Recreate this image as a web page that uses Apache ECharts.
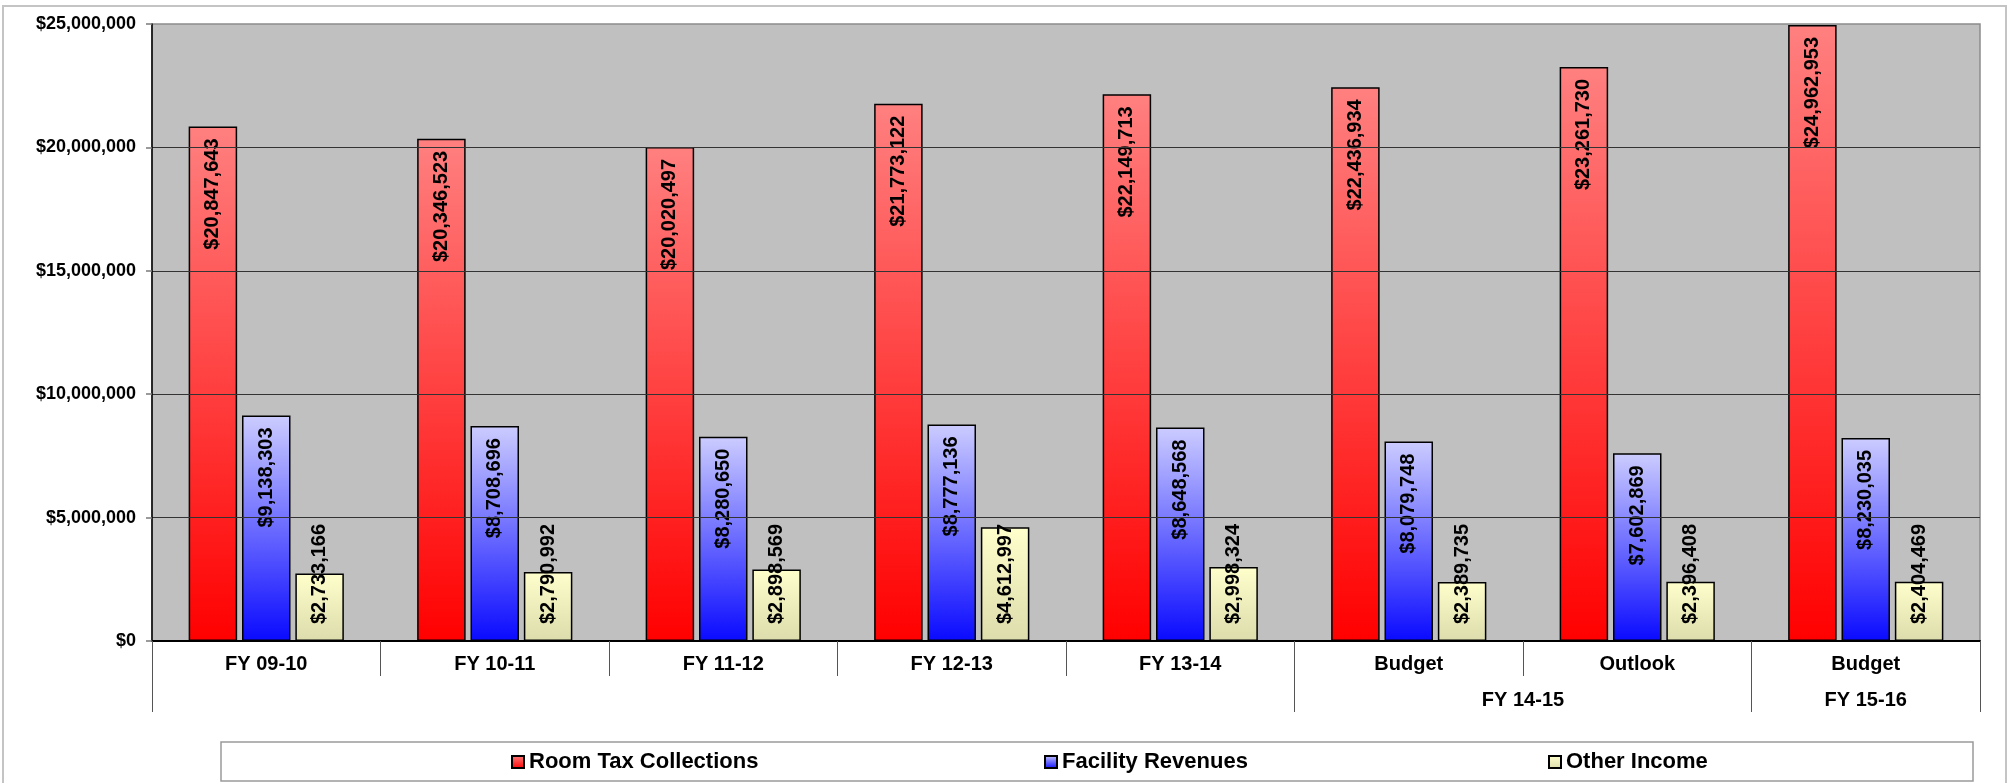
<!DOCTYPE html>
<html>
<head>
<meta charset="utf-8">
<title>Revenue by Fiscal Year</title>
<script src="https://cdn.jsdelivr.net/npm/echarts@6/dist/echarts.min.js"></script>
<style>
  html, body { margin: 0; padding: 0; background: #ffffff; }
  #chart { width: 2011px; height: 783px; }
</style>
</head>
<body>
<div id="chart"></div>
<script>
// Fiscal periods along the x axis
const categories = ['FY 09-10', 'FY 10-11', 'FY 11-12', 'FY 12-13', 'FY 13-14', 'Budget', 'Outlook', 'Budget'];

// Revenue streams (USD)
const roomTax = [20847643, 20346523, 20020497, 21773122, 22149713, 22436934, 23261730, 24962953];
const facilityRevenues = [9138303, 8708696, 8280650, 8777136, 8648568, 8079748, 7602869, 8230035];
const otherIncome = [2733166, 2790992, 2898569, 4612997, 2998324, 2389735, 2396408, 2404469];

const seriesNames = ['Room Tax Collections', 'Facility Revenues', 'Other Income'];

// Second row of the category axis: fiscal-year groups
const groupLabels = ['FY 14-15', 'FY 15-16'];
const groupCenters = [6, 7.5];
const groupBounds = [0, 5, 7, 8];

const FONT = '"Liberation Sans", Arial, Helvetica, sans-serif';
const money = v => '$' + Math.round(v).toLocaleString('en-US');

const grad = (top, bottom) => new echarts.graphic.LinearGradient(0, 0, 0, 1, [
  { offset: 0, color: top },
  { offset: 1, color: bottom }
]);

const labelBase = {
  show: true,
  rotate: 90,
  verticalAlign: 'middle',
  color: '#000',
  fontFamily: FONT,
  fontWeight: 'bold',
  fontSize: 20,
  formatter: p => money(p.value)
};

function barSeries(name, data, top, bottom, labelOpts) {
  return {
    name: name,
    type: 'bar',
    data: data,
    barWidth: 48.5,
    barGap: '10%',
    itemStyle: { color: grad(top, bottom), borderColor: '#000', borderWidth: 1.5 },
    label: Object.assign({}, labelBase, labelOpts)
  };
}

const legendCommon = {
  top: 750,
  padding: 0,
  itemWidth: 12,
  itemHeight: 12,
  icon: 'rect',
  selectedMode: false,
  itemStyle: { borderColor: '#000', borderWidth: 2 },
  textStyle: { fontFamily: FONT, fontWeight: 'bold', fontSize: 22, color: '#000', lineHeight: 24 }
};

const chart = echarts.init(document.getElementById('chart'), null, { renderer: 'canvas' });

chart.setOption({
  backgroundColor: '#ffffff',
  animation: false,
  graphic: [
    { type: 'rect', shape: { x: 3, y: 6, width: 2003, height: 790 }, style: { fill: null, stroke: '#c4c4c4', lineWidth: 2 }, silent: true, z: -10 },
    { type: 'rect', shape: { x: 221, y: 742, width: 1752, height: 39 }, style: { fill: '#fff', stroke: '#9a9a9a', lineWidth: 1.5 }, silent: true, z: -5 }
  ],
  grid: {
    left: 152, right: 31, top: 24, bottom: 142,
    show: true,
    backgroundColor: '#c0c0c0',
    borderColor: '#8c8c8c',
    borderWidth: 1.5
  },
  legend: [
    Object.assign({ left: 511, data: [seriesNames[0]] }, legendCommon),
    Object.assign({ left: 1044, data: [seriesNames[1]] }, legendCommon),
    Object.assign({ left: 1548, data: [seriesNames[2]] }, legendCommon)
  ],
  xAxis: [
    {
      type: 'category',
      data: categories,
      boundaryGap: true,
      axisLine: { show: true, lineStyle: { color: '#000', width: 2 } },
      axisTick: { show: true, interval: 0, length: 35, lineStyle: { color: '#555', width: 1 } },
      axisLabel: { interval: 0, margin: 13, color: '#000', fontFamily: FONT, fontWeight: 'bold', fontSize: 20 },
      splitLine: { show: false },
      z: 10
    },
    {
      type: 'value',
      min: 0,
      max: categories.length,
      position: 'bottom',
      axisLine: { show: false },
      splitLine: { show: false },
      axisTick: { show: true, customValues: groupBounds, length: 71, lineStyle: { color: '#555', width: 1 } },
      axisLabel: {
        show: true,
        customValues: groupCenters,
        margin: 49,
        color: '#000', fontFamily: FONT, fontWeight: 'bold', fontSize: 20,
        formatter: v => groupLabels[groupCenters.indexOf(v)] || ''
      }
    }
  ],
  yAxis: {
    type: 'value',
    min: 0,
    max: 25000000,
    interval: 5000000,
    axisLine: { show: true, lineStyle: { color: '#000', width: 1.5 } },
    axisTick: { show: true, inside: false, length: 6, lineStyle: { color: '#7a7a7a', width: 1.5 } },
    axisLabel: { margin: 16, color: '#000', fontFamily: FONT, fontWeight: 'bold', fontSize: 18, formatter: money },
    splitLine: { show: true, showMinLine: false, showMaxLine: false, lineStyle: { color: '#333', width: 1 } },
    z: 10
  },
  series: [
    barSeries(seriesNames[0], roomTax, '#ff8080', '#ff0000', { position: 'insideTop', align: 'right', distance: 12 }),
    barSeries(seriesNames[1], facilityRevenues, '#ccccff', '#0a0aff', { position: 'insideTop', align: 'right', distance: 12 }),
    barSeries(seriesNames[2], otherIncome, '#ffffcc', '#dcdcac', { position: 'insideBottom', align: 'left', distance: 17 })
  ]
});
</script>
</body>
</html>
